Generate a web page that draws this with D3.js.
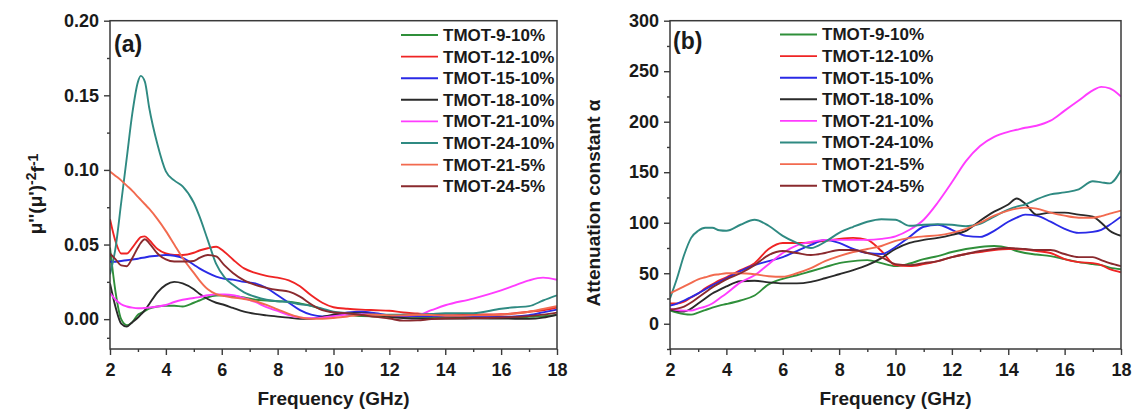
<!DOCTYPE html>
<html>
<head>
<meta charset="utf-8">
<script src="https://cdn.jsdelivr.net/npm/d3@7"></script>
<style>
  html, body { margin: 0; padding: 0; background: #fff; }
  svg { display: block; font-family: "Liberation Sans", Arial, sans-serif; font-weight: bold; }
</style>
</head>
<body>
<svg id="fig" width="1135" height="415"></svg>
<script>
// ---- series names and colours (legend order) ----
const seriesNames = ["TMOT-9-10%", "TMOT-12-10%", "TMOT-15-10%", "TMOT-18-10%",
                     "TMOT-21-10%", "TMOT-24-10%", "TMOT-21-5%", "TMOT-24-5%"];
const seriesColors = ["#2f8f3a", "#ef2424", "#2a2ae6", "#2a2a2a",
                      "#ff3cff", "#2f8a82", "#f26a4f", "#8a2a2e"];

// ---- panel (a): mu''(mu')^-2 f^-1 vs frequency ----
const freqA = [2.0, 2.2, 2.4, 2.6, 2.8, 3.0, 3.1, 3.25, 3.4, 3.7, 4.0, 4.3, 4.6, 5.0, 5.2, 5.5, 5.8, 6.1, 6.4, 6.8,
               7.2, 7.6, 8.0, 8.4, 8.8, 9.2, 9.6, 10.0, 10.5, 11, 11.5, 12, 12.5, 13, 13.5, 14, 15, 16, 16.5, 17, 17.5, 18];
const a_t9_10 = [0.048, 0.018, 0.000, -0.004, -0.002, 0.003, 0.004, 0.0055, 0.007, 0.0085, 0.009, 0.009, 0.0085, 0.011, 0.0125, 0.0147, 0.0158, 0.016, 0.0155, 0.0145,
                 0.013, 0.0125, 0.012, 0.0117, 0.0105, 0.009, 0.0065, 0.0045, 0.003, 0.002, 0.0018, 0.0016, 0.0015, 0.0015, 0.0015, 0.0015, 0.0012, 0.001, 0.001, 0.0015, 0.002, 0.0027];
const a_t12_10 = [0.067, 0.052, 0.044, 0.044, 0.048, 0.053, 0.055, 0.0555, 0.053, 0.047, 0.044, 0.043, 0.043, 0.0445, 0.046, 0.0475, 0.0485, 0.045, 0.040, 0.034,
                  0.031, 0.029, 0.0278, 0.026, 0.022, 0.016, 0.011, 0.008, 0.007, 0.0064, 0.006, 0.0056, 0.0045, 0.0038, 0.003, 0.0027, 0.003, 0.0033, 0.004, 0.005, 0.006, 0.0078];
const a_t15_10 = [0.0385, 0.0385, 0.039, 0.0395, 0.040, 0.0405, 0.041, 0.0413, 0.042, 0.0425, 0.043, 0.0425, 0.041, 0.0365, 0.034, 0.031, 0.0285, 0.027, 0.0265, 0.025,
                  0.024, 0.021, 0.016, 0.011, 0.006, 0.003, 0.0018, 0.0025, 0.0045, 0.005, 0.004, 0.0027, 0.002, 0.002, 0.002, 0.002, 0.002, 0.0016, 0.0018, 0.0027, 0.0045, 0.0064];
const a_t18_10 = [0.024, 0.008, -0.003, -0.005, -0.002, 0.001, 0.003, 0.006, 0.010, 0.018, 0.023, 0.025, 0.024, 0.020, 0.017, 0.0135, 0.011, 0.0095, 0.0075, 0.005,
                  0.0035, 0.0025, 0.0017, 0.001, 0.0003, 0.0003, 0.0015, 0.003, 0.004, 0.004, 0.003, 0.0016, 0.0008, 0.0004, 0.0004, 0.0004, 0.0005, 0.0004, 0.0003, 0.0002, 0.001, 0.003];
const a_t21_10 = [0.0175, 0.013, 0.010, 0.0085, 0.0077, 0.0073, 0.0073, 0.0075, 0.0078, 0.0085, 0.0095, 0.0115, 0.013, 0.0142, 0.0148, 0.016, 0.0166, 0.0165, 0.016, 0.014,
                  0.0115, 0.008, 0.0055, 0.0028, 0.0012, 0.0006, 0.001, 0.002, 0.003, 0.0035, 0.003, 0.0027, 0.0025, 0.0027, 0.006, 0.0093, 0.0138, 0.0193, 0.0227, 0.026, 0.0278, 0.0264];
const a_t24_10 = [0.030, 0.048, 0.078, 0.108, 0.138, 0.159, 0.163, 0.159, 0.142, 0.117, 0.099, 0.093, 0.089, 0.078, 0.069, 0.053, 0.037, 0.028, 0.023, 0.018,
                  0.015, 0.013, 0.012, 0.0115, 0.010, 0.009, 0.007, 0.005, 0.004, 0.003, 0.003, 0.003, 0.003, 0.003, 0.0035, 0.004, 0.004, 0.007, 0.008, 0.0087, 0.0125, 0.016];
const a_t21_5 = [0.099, 0.096, 0.093, 0.0895, 0.086, 0.082, 0.080, 0.077, 0.074, 0.067, 0.059, 0.050, 0.041, 0.031, 0.026, 0.020, 0.0168, 0.0154, 0.0145, 0.0135,
                 0.012, 0.0095, 0.0065, 0.0035, 0.0012, 0.0002, 0.0003, 0.0008, 0.0018, 0.0028, 0.003, 0.0025, 0.0025, 0.003, 0.0028, 0.0022, 0.0025, 0.003, 0.0038, 0.005, 0.0068, 0.0087];
const a_t24_5 = [0.044, 0.040, 0.036, 0.0355, 0.041, 0.048, 0.051, 0.0535, 0.051, 0.044, 0.040, 0.0386, 0.0386, 0.039, 0.041, 0.043, 0.042, 0.036, 0.031, 0.026,
                 0.023, 0.021, 0.0195, 0.0185, 0.0151, 0.010, 0.006, 0.0045, 0.004, 0.0028, 0.0015, 0.0004, -0.001, -0.0008, 0.0, 0.0004, 0.0006, 0.0011, 0.0015, 0.002, 0.003, 0.0044];
const yTicksA = [0.00, 0.05, 0.10, 0.15, 0.20];

// ---- panel (b): attenuation constant vs frequency ----
const freqB = [2, 2.25, 2.5, 2.75, 3, 3.25, 3.5, 3.75, 4, 4.5, 5, 5.5, 6, 6.5, 7, 7.5, 8, 8.5, 9, 9.5,
               10, 10.5, 11, 11.5, 12, 12.5, 13, 13.5, 14, 14.3, 14.6, 15, 15.5, 16, 16.5, 17, 17.3, 17.6, 18];
const b_t9_10 = [13, 11, 9.5, 9, 11, 13.5, 16, 18, 19.5, 23, 28, 39, 44.5, 48, 52, 56, 60, 62, 63, 60,
                 57, 59.6, 64, 67, 71, 74, 76, 77, 75, 72, 70, 68.5, 67, 64, 61, 59, 58, 55.5, 54];
const b_t12_10 = [20, 20, 22, 26, 30, 35, 39, 43, 46, 53, 60, 74, 80, 80, 80.5, 82, 84, 85, 83, 72,
                  58, 57, 59, 62, 66, 69, 71, 73, 74, 74, 73.5, 72, 70, 64, 61, 60, 58, 54, 51];
const b_t15_10 = [18, 20, 23, 26.5, 30, 34, 38, 41.5, 45, 52, 58, 62, 66, 72, 78, 83, 80, 74, 70, 69,
                  76, 86, 96, 98, 93, 87, 86, 92, 101, 105, 108, 107, 101, 94, 90, 91, 93, 98, 106];
const b_t18_10 = [14, 12.5, 12, 15, 20, 25, 30, 33.5, 37, 42, 42.5, 41, 40, 40, 41.5, 45, 49, 53, 58, 65,
                  74, 80, 83, 85, 88, 92, 102, 111, 118, 124, 119, 108, 110, 110, 108, 106, 100, 92, 87];
const b_t21_10 = [15, 13.5, 13, 13, 15, 17, 20, 25, 30, 41, 48, 59, 70, 77.6, 81, 83, 83, 83, 83, 84,
                  86.5, 93, 103, 120, 140, 161, 176, 185, 190, 192, 194, 196, 201, 211, 221, 231, 234.5, 233, 225];
const b_t24_10 = [25, 45, 68, 85, 92, 95, 95, 92.5, 92, 98, 103, 97, 87, 80, 75, 81, 90, 96, 101, 103.5,
                  103, 97, 98, 98.5, 98, 96.5, 99, 106, 113, 116, 118, 123, 128, 130, 133, 141, 140, 139, 152];
const b_t21_5 = [30, 33.5, 37, 40.5, 44, 46, 48, 49, 50, 50, 49, 47, 46.5, 50, 55, 62, 67, 71, 74, 77,
                 82, 85, 86.5, 87.5, 90, 94, 100, 107, 112, 114, 115, 114, 110, 107, 105, 105, 106.5, 109, 112];
const b_t24_5 = [14, 15, 17, 21, 26, 31, 36, 40, 44, 50, 58, 68, 72, 70, 68, 70, 73, 73, 70, 66,
                 59, 58, 60, 62, 66, 69, 72, 74, 75, 74.5, 74, 73, 73, 69, 66, 66, 63, 60, 57];
const yTicksB = [0, 50, 100, 150, 200, 250, 300];

const xTicks = [2, 4, 6, 8, 10, 12, 14, 16, 18];
const xTitle = "Frequency (GHz)";

const svg = d3.select("#fig");

function drawPanel(cfg) {
  const x = d3.scaleLinear().domain([2, 18]).range([cfg.left, cfg.right]);
  const y = d3.scaleLinear().domain(cfg.yDomain).range([cfg.bottom, cfg.top]);
  const g = svg.append("g");

  const clipId = "clip-" + cfg.id;
  g.append("clipPath").attr("id", clipId).append("rect")
    .attr("x", cfg.left).attr("y", cfg.top)
    .attr("width", cfg.right - cfg.left).attr("height", cfg.bottom - cfg.top);

  // curves
  const line = d3.line()
    .x(d => x(d[0])).y(d => y(d[1]))
    .curve(d3.curveMonotoneX);
  const curves = g.append("g").attr("clip-path", `url(#${clipId})`);
  cfg.series.forEach((vals, i) => {
    const pts = cfg.freq.map((f, k) => [f, vals[k]]);
    curves.append("path").datum(pts)
      .attr("d", line).attr("fill", "none")
      .attr("stroke", seriesColors[i]).attr("stroke-width", 1.9)
      .attr("stroke-linejoin", "round");
  });

  // frame
  g.append("rect")
    .attr("x", cfg.left).attr("y", cfg.top)
    .attr("width", cfg.right - cfg.left).attr("height", cfg.bottom - cfg.top)
    .attr("fill", "none").attr("stroke", "#3a3a3a").attr("stroke-width", 1.5);

  // x axis: major + minor ticks
  const xMinor = d3.range(3, 18, 2);
  g.append("g").attr("transform", `translate(0,${cfg.bottom})`)
    .call(d3.axisBottom(x).tickValues(xMinor).tickSize(3).tickFormat(""))
    .call(s => s.select(".domain").remove());
  const xa = g.append("g").attr("transform", `translate(0,${cfg.bottom})`)
    .call(d3.axisBottom(x).tickValues(xTicks).tickSize(6).tickPadding(8).tickFormat(d3.format("d")));
  xa.select(".domain").remove();

  // y axis: major + minor ticks
  g.append("g").attr("transform", `translate(${cfg.left},0)`)
    .call(d3.axisLeft(y).tickValues(cfg.yMinor).tickSize(3).tickFormat(""))
    .call(s => s.select(".domain").remove());
  const ya = g.append("g").attr("transform", `translate(${cfg.left},0)`)
    .call(d3.axisLeft(y).tickValues(cfg.yTicks).tickSize(6).tickPadding(5).tickFormat(cfg.yFormat));
  ya.select(".domain").remove();

  g.selectAll(".tick line").attr("stroke", "#3a3a3a").attr("stroke-width", 1.4);
  g.selectAll(".tick text").attr("fill", "#1a1a1a")
    .style("font-size", "18px").style("font-weight", "bold")
    .style("font-family", "'Liberation Sans', Arial, sans-serif");

  // axis titles
  g.append("text")
    .attr("x", (cfg.left + cfg.right) / 2).attr("y", 405)
    .attr("text-anchor", "middle").attr("fill", "#1a1a1a")
    .style("font-size", "19px").text(xTitle);

  const yt = g.append("text")
    .attr("transform", `translate(${cfg.yTitleX},${cfg.yTitleY}) rotate(-90)`)
    .attr("text-anchor", "middle").attr("fill", "#1a1a1a")
    .style("font-size", "19px");
  cfg.yTitle(yt);

  // panel tag
  g.append("text").attr("x", cfg.tagX).attr("y", cfg.tagY)
    .attr("fill", "#1a1a1a").style("font-size", "23px").text(cfg.tag);

  // legend
  const lg = g.append("g");
  seriesNames.forEach((name, i) => {
    const yy = cfg.legendY + i * 21.6;
    lg.append("line")
      .attr("x1", cfg.legendX).attr("x2", cfg.legendX + 37)
      .attr("y1", yy).attr("y2", yy)
      .attr("stroke", seriesColors[i]).attr("stroke-width", 1.9);
    lg.append("text")
      .attr("x", cfg.legendX + 42).attr("y", yy).attr("dy", "0.35em")
      .attr("fill", "#1a1a1a").style("font-size", "17px").text(name);
  });
}

drawPanel({
  id: "a", left: 110, right: 557, top: 20.7, bottom: 349,
  yDomain: [-0.02, 0.20], yTicks: yTicksA, yMinor: [-0.0125, 0.025, 0.075, 0.125, 0.175],
  yFormat: d3.format(".2f"),
  freq: freqA,
  series: [a_t9_10, a_t12_10, a_t15_10, a_t18_10, a_t21_10, a_t24_10, a_t21_5, a_t24_5],
  yTitleX: 42, yTitleY: 194,
  yTitle: t => {
    t.append("tspan").text("\u03bc''(\u03bc')");
    t.append("tspan").attr("dy", "-0.45em").style("font-size", "14px").text("-2");
    t.append("tspan").attr("dy", "0.45em").text("f");
    t.append("tspan").attr("dy", "-0.45em").style("font-size", "14px").text("-1");
  },
  tag: "(a)", tagX: 114, tagY: 52,
  legendX: 401, legendY: 35
});

drawPanel({
  id: "b", left: 670, right: 1121, top: 20.7, bottom: 349,
  yDomain: [-25, 300], yTicks: yTicksB, yMinor: [-25, 25, 75, 125, 175, 225, 275],
  yFormat: d3.format("d"),
  freq: freqB,
  series: [b_t9_10, b_t12_10, b_t15_10, b_t18_10, b_t21_10, b_t24_10, b_t21_5, b_t24_5],
  yTitleX: 600, yTitleY: 203,
  yTitle: t => t.text("Attenuation constant \u03b1"),
  tag: "(b)", tagX: 673, tagY: 49,
  legendX: 780, legendY: 34.5
});
</script>
</body>
</html>
